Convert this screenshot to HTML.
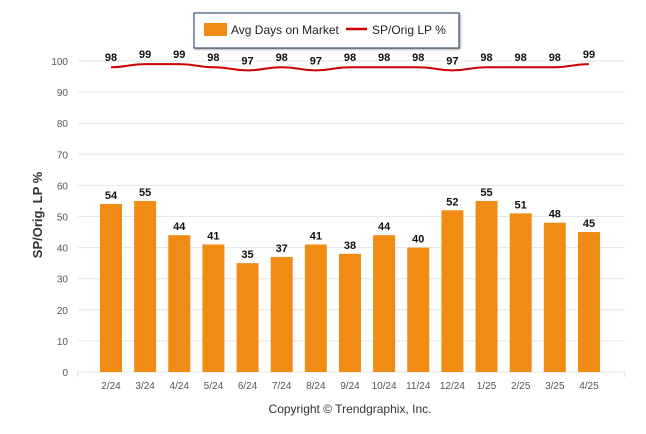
<!DOCTYPE html>
<html><head><meta charset="utf-8"><style>
body{margin:0;background:#fff;}
svg{display:block;font-family:"Liberation Sans",sans-serif;}
</style></head><body>
<svg width="646" height="434">
<g id="grid"></g><g id="bars"></g><g id="line"></g><g id="labels"></g>
<g>
<rect x="194" y="13" width="265" height="35" fill="#fff" stroke="#1f3a5a" stroke-width="1" filter="drop-shadow(1px 1px 1px #999)"/>
<rect x="204" y="23" width="23" height="13" fill="#f08c14"/>
<text x="231" y="34" font-size="12" fill="#222">Avg Days on Market</text>
<line x1="346" y1="29" x2="367" y2="29" stroke="#c00" stroke-width="2.5"/>
<text x="372" y="34" font-size="12" fill="#222">SP/Orig LP %</text>
</g>
<text transform="translate(42,215) rotate(-90)" text-anchor="middle" font-size="13" font-weight="bold" fill="#333">SP/Orig. LP %</text>
<text x="350" y="413" text-anchor="middle" font-size="12" fill="#333">Copyright © Trendgraphix, Inc.</text>
</svg>
<script>
const categories=["2/24","3/24","4/24","5/24","6/24","7/24","8/24","9/24","10/24","11/24","12/24","1/25","2/25","3/25","4/25"];
const daysOnMarket=[54,55,44,41,35,37,41,38,44,40,52,55,51,48,45];
const spOrigLp=[98,99,99,98,97,98,97,98,98,98,97,98,98,98,99];
const yTicks=[0,10,20,30,40,50,60,70,80,90,100];
const NS="http://www.w3.org/2000/svg";
const y=v=>372-v*3.11;
const x=i=>111+i*34.14;
function mk(p,t,a){const e=document.createElementNS(NS,t);for(const k in a)e.setAttribute(k,a[k]);p.appendChild(e);return e;}
const g=document.getElementById('grid'),b=document.getElementById('bars'),l=document.getElementById('line'),lb=document.getElementById('labels');
yTicks.forEach(t=>{
 const ln=mk(g,'line',{x1:78,x2:625,y1:y(t),y2:y(t),stroke:'#e6e6e6'});
 
 
 const tx=mk(g,'text',{x:68,y:y(t)+4,'text-anchor':'end','font-size':10,fill:'#555'});tx.textContent=t;
 
 
});
mk(g,'line',{x1:78,x2:78,y1:372,y2:377,stroke:'#ddd'});
mk(g,'line',{x1:625,x2:625,y1:372,y2:377,stroke:'#ddd'});
categories.forEach((c,i)=>{
 const tx=mk(lb,'text',{x:x(i),y:389,'text-anchor':'middle','font-size':10,fill:'#555'});tx.textContent=c;
 
 
 const v=daysOnMarket[i];
 const r=mk(b,'rect',{x:x(i)-11,y:y(v),width:22,height:372-y(v),fill:'#f08c14'});
 
 
 const bt=mk(lb,'text',{x:x(i),y:y(v)-5,'text-anchor':'middle','font-size':11,'font-weight':'bold',fill:'#111'});bt.textContent=v;
 
 
 const p=spOrigLp[i];
 const pt=mk(lb,'text',{x:x(i),y:y(p)-6,'text-anchor':'middle','font-size':11,'font-weight':'bold',fill:'#111'});pt.textContent=p;
 
 
});
let d='';
spOrigLp.forEach((p,i)=>{
 if(i===0){d+='M'+x(0)+' '+y(p);return;}
 const x0=x(i-1),y0=y(spOrigLp[i-1]),x1=x(i),y1=y(p),m=(x0+x1)/2;
 d+=` C${m} ${y0} ${m} ${y1} ${x1} ${y1}`;
});
const path=mk(l,'path',{d:d,fill:'none',stroke:'#c00',"stroke-width":2});


</script>
</body></html>
